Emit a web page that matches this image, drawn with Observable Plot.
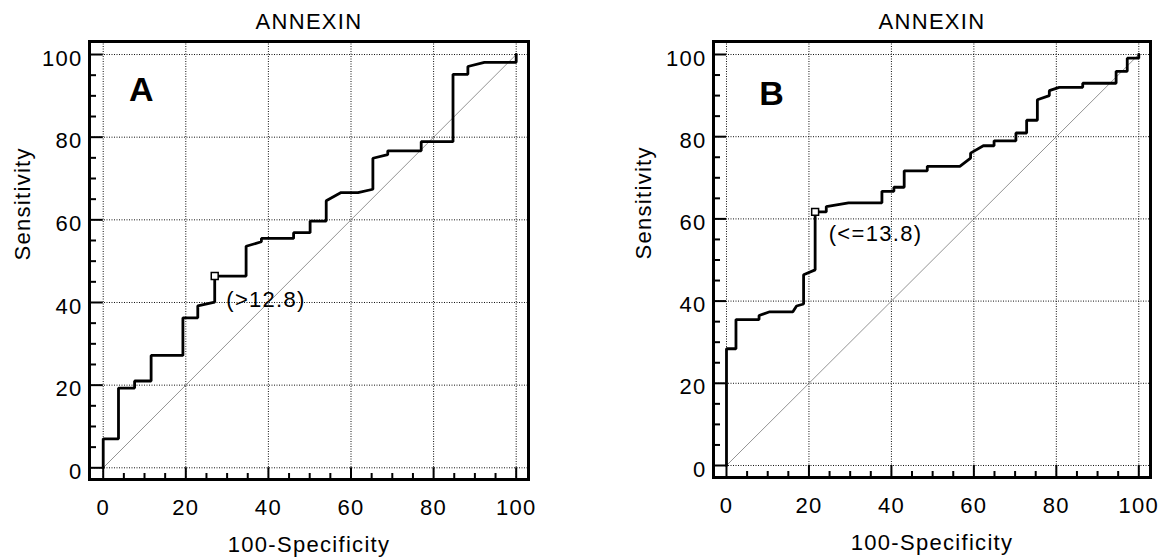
<!DOCTYPE html>
<html>
<head>
<meta charset="utf-8">
<script src="https://cdn.jsdelivr.net/npm/d3@7"></script>
<script src="https://cdn.jsdelivr.net/npm/@observablehq/plot@0.6"></script>
<style>
html, body { margin: 0; padding: 0; background: #fff; }
#wrap { display: flex; width: 1167px; height: 558px; overflow: hidden; }
#wrap svg text { letter-spacing: 1.3px; }
</style>
</head>
<body>
<div id="wrap"></div>
<script>
// ---- data ----
const title = "ANNEXIN";
const xLabel = "100-Specificity";
const yLabel = "Sensitivity";
const majorTicks = [0, 20, 40, 60, 80, 100];
const minorTicks = [5, 10, 15, 25, 30, 35, 45, 50, 55, 65, 70, 75, 85, 90, 95];
const diagonal = [0, 100];

// Panel A ROC curve (100-Specificity, Sensitivity)
const rocA_x = [0, 0, 3.7, 3.7, 7.6, 7.6, 11.6, 11.6, 19.3, 19.3, 22.9, 22.9, 27.0, 27.0, 34.6, 34.6, 38.3, 38.3, 46.1, 46.1, 50.1, 50.1, 54.0, 54.0, 57.6, 61.7, 65.3, 65.3, 68.9, 68.9, 77.0, 77.0, 84.7, 84.7, 88.3, 88.3, 92.3, 100, 100];
const rocA_y = [0, 7.0, 7.0, 19.3, 19.3, 21.0, 21.0, 27.2, 27.2, 36.3, 36.3, 39.2, 40.1, 46.4, 46.4, 53.6, 54.7, 55.5, 55.5, 56.9, 56.9, 59.7, 59.7, 64.6, 66.6, 66.6, 67.4, 74.9, 75.8, 76.7, 76.7, 78.9, 78.9, 95.2, 95.2, 97.1, 98.1, 98.1, 100];
const cutA = {x: 27.0, y: 46.4, label: "(>12.8)", lx: 29.8, ly: 40.5};
const letterA = {t: "A", x: 9.4, y: 91.3};

// Panel B ROC curve
const rocB_x = [0, 0, 2.3, 2.3, 7.9, 7.9, 10.5, 16.1, 17.0, 18.7, 18.7, 21.5, 21.5, 24.2, 24.2, 29.6, 37.7, 37.7, 40.6, 40.6, 43.1, 43.1, 48.7, 48.7, 56.6, 59.2, 59.2, 62.3, 64.9, 64.9, 70.2, 70.2, 72.8, 72.8, 75.4, 75.4, 78.3, 78.3, 80.7, 86.4, 86.4, 94.5, 94.5, 97.2, 97.2, 100, 100];
const rocB_y = [0, 28.4, 28.4, 35.5, 35.5, 36.5, 37.4, 37.4, 38.8, 39.3, 46.4, 47.6, 61.7, 61.7, 63.0, 63.9, 63.9, 66.7, 66.7, 67.7, 67.7, 71.7, 71.7, 72.8, 72.8, 74.8, 76.0, 77.8, 77.8, 79.0, 79.0, 80.9, 80.9, 84.0, 84.0, 89.0, 90.0, 91.2, 92.0, 92.0, 93.0, 93.0, 95.9, 95.9, 99.1, 99.1, 100];
const cutB = {x: 21.5, y: 61.7, label: "(<=13.8)", lx: 24.8, ly: 56.4};
const letterB = {t: "B", x: 11.1, y: 90.3};

const H = 558;
const font = "'Liberation Sans', Arial, Helvetica, sans-serif";

function panel(cfg) {
  const {w, ml, mr, mt, mb, xDom, yDom, rx, ry, cut, letter, yLabelDx} = cfg;
  const fw = w - ml - mr, fh = H - mt - mb;
  const kx = fw / (xDom[1] - xDom[0]);
  const ky = fh / (yDom[1] - yDom[0]);
  const majX = (0 - xDom[0]) * kx; // frame to x=0 line (px)
  const majY = (0 - yDom[0]) * ky; // frame to y=0 line (px)
  const pts = rx.map((x, i) => ({x, y: ry[i]}));
  return Plot.plot({
    width: w, height: H,
    marginLeft: ml, marginRight: mr, marginTop: mt, marginBottom: mb,
    x: {domain: xDom},
    y: {domain: yDom},
    style: {fontFamily: font, fontSize: "22px", color: "#000", background: "#fff", overflow: "visible"},
    marks: [
      Plot.gridX(majorTicks, {stroke: "#111", strokeOpacity: 1, strokeWidth: 1, strokeDasharray: "1,1.5"}),
      Plot.gridY(majorTicks, {stroke: "#111", strokeOpacity: 1, strokeWidth: 1, strokeDasharray: "1,1.5"}),
      Plot.line(diagonal, {x: d => d, y: d => d, stroke: "#777", strokeWidth: 0.8}),
      // inward ticks on left
      Plot.tickY(minorTicks, {y: d => d, insetRight: fw - 7, stroke: "#000", strokeWidth: 2}),
      Plot.tickY(majorTicks, {y: d => d, insetRight: fw - majX, stroke: "#000", strokeWidth: 2}),
      // inward ticks on bottom
      Plot.tickX(minorTicks, {x: d => d, insetTop: fh - 6, stroke: "#000", strokeWidth: 2}),
      Plot.tickX(majorTicks, {x: d => d, insetTop: fh - majY, stroke: "#000", strokeWidth: 2}),
      Plot.axisX(majorTicks, {anchor: "bottom", tickSize: 0, tickPadding: 20, label: null, fontSize: 22}),
      Plot.axisY(majorTicks, {anchor: "left", tickSize: 0, tickPadding: 7, dy: 4, label: null, fontSize: 22}),
      Plot.line(pts, {x: "x", y: "y", stroke: "#000", strokeWidth: 2.8, strokeLinejoin: "miter"}),
      Plot.dot([cut], {x: "x", y: "y", symbol: "square", r: 3.9, fill: "#fff", stroke: "#000", strokeWidth: 1.5}),
      Plot.text([cut], {x: "lx", y: "ly", text: "label", textAnchor: "start", fontSize: 22}),
      Plot.text([letter], {x: "x", y: "y", text: "t", fontSize: 34, fontWeight: "bold"}),
      Plot.frame({stroke: "#000", strokeWidth: 3}),
      Plot.text([title], {text: d => d, frameAnchor: "top", lineAnchor: "middle", dy: -20, fontSize: 22}),
      Plot.text([xLabel], {text: d => d, frameAnchor: "bottom", lineAnchor: "middle", dy: 65, fontSize: 22}),
      Plot.text([yLabel], {text: d => d, frameAnchor: "left", lineAnchor: "middle", rotate: -90, dx: yLabelDx, fontSize: 22})
    ]
  });
}

const wrap = document.getElementById("wrap");
wrap.appendChild(panel({
  w: 583, ml: 89, mr: 55, mt: 41, mb: 79,
  xDom: [-3.32, 102.98], yDom: [-2.83, 103.15],
  rx: rocA_x, ry: rocA_y, cut: cutA, letter: letterA, yLabelDx: -67
}));
wrap.appendChild(panel({
  w: 584, ml: 130, mr: 17, mt: 41, mb: 81,
  xDom: [-3.15, 102.84], yDom: [-2.92, 103.16],
  rx: rocB_x, ry: rocB_y, cut: cutB, letter: letterB, yLabelDx: -70
}));
</script>
</body>
</html>
